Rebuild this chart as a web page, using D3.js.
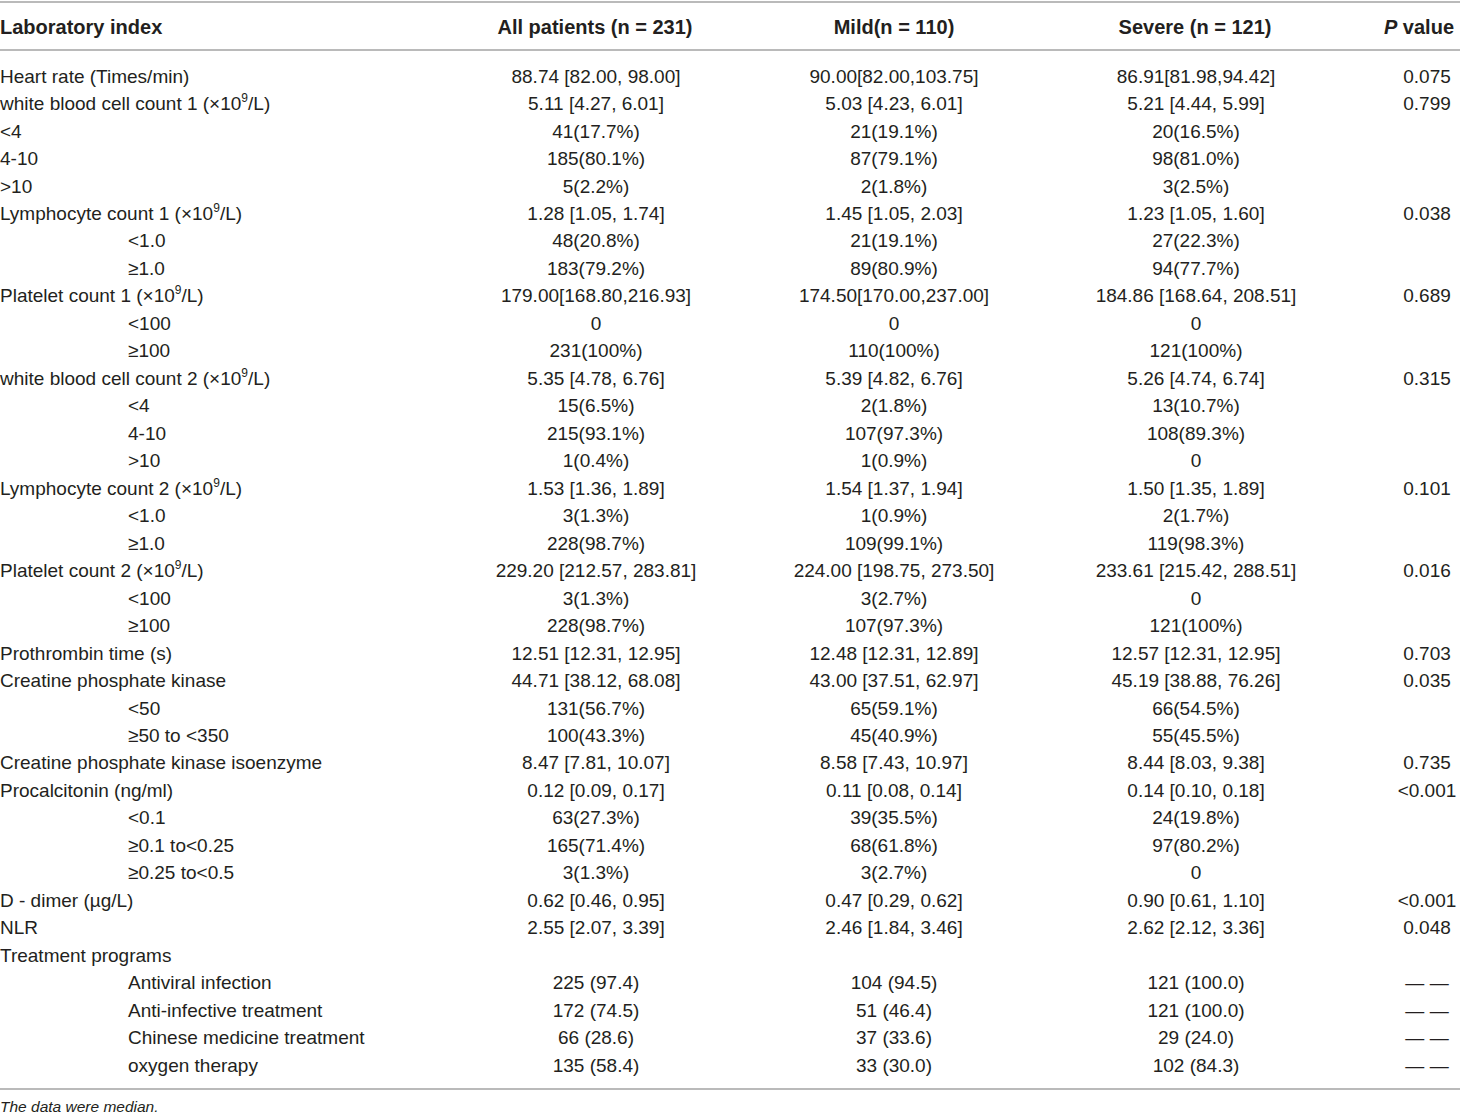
<!DOCTYPE html>
<html>
<head>
<meta charset="utf-8">
<script src="https://cdn.jsdelivr.net/npm/d3@7"></script>
<style>
  html, body { margin: 0; padding: 0; background: #fff; }
  svg text { font-family: "Liberation Sans", Arial, sans-serif; fill: #231f20; }
</style>
</head>
<body>
<svg class="rootSvg" width="1460" height="1116"></svg>
<script>
// Table content, read row by row. "^9" marks a superscript 9.
var headers = ['Laboratory index', 'All patients (n = 231)', 'Mild(n = 110)', 'Severe (n = 121)', 'P value'];

var labels = [
  'Heart rate (Times/min)', 'white blood cell count 1 (×10^9/L)', '<4', '4-10', '>10',
  'Lymphocyte count 1 (×10^9/L)', '<1.0', '≥1.0',
  'Platelet count 1 (×10^9/L)', '<100', '≥100',
  'white blood cell count 2 (×10^9/L)', '<4', '4-10', '>10',
  'Lymphocyte count 2 (×10^9/L)', '<1.0', '≥1.0',
  'Platelet count 2 (×10^9/L)', '<100', '≥100',
  'Prothrombin time (s)', 'Creatine phosphate kinase', '<50', '≥50 to <350',
  'Creatine phosphate kinase isoenzyme', 'Procalcitonin (ng/ml)', '<0.1', '≥0.1 to<0.25', '≥0.25 to<0.5',
  'D - dimer (µg/L)', 'NLR', 'Treatment programs',
  'Antiviral infection', 'Anti-infective treatment', 'Chinese medicine treatment', 'oxygen therapy'
];

// 1 = indented sub-row
var indent = [0, 0, 0, 0, 0, 0, 1, 1, 0, 1, 1, 0, 1, 1, 1, 0, 1, 1, 0, 1, 1,
              0, 0, 1, 1, 0, 0, 1, 1, 1, 0, 0, 0, 1, 1, 1, 1];

var allPatients = [
  '88.74 [82.00, 98.00]', '5.11 [4.27, 6.01]', '41(17.7%)', '185(80.1%)', '5(2.2%)',
  '1.28 [1.05, 1.74]', '48(20.8%)', '183(79.2%)',
  '179.00[168.80,216.93]', '0', '231(100%)',
  '5.35 [4.78, 6.76]', '15(6.5%)', '215(93.1%)', '1(0.4%)',
  '1.53 [1.36, 1.89]', '3(1.3%)', '228(98.7%)',
  '229.20 [212.57, 283.81]', '3(1.3%)', '228(98.7%)',
  '12.51 [12.31, 12.95]', '44.71 [38.12, 68.08]', '131(56.7%)', '100(43.3%)',
  '8.47 [7.81, 10.07]', '0.12 [0.09, 0.17]', '63(27.3%)', '165(71.4%)', '3(1.3%)',
  '0.62 [0.46, 0.95]', '2.55 [2.07, 3.39]', '',
  '225 (97.4)', '172 (74.5)', '66 (28.6)', '135 (58.4)'
];

var mild = [
  '90.00[82.00,103.75]', '5.03 [4.23, 6.01]', '21(19.1%)', '87(79.1%)', '2(1.8%)',
  '1.45 [1.05, 2.03]', '21(19.1%)', '89(80.9%)',
  '174.50[170.00,237.00]', '0', '110(100%)',
  '5.39 [4.82, 6.76]', '2(1.8%)', '107(97.3%)', '1(0.9%)',
  '1.54 [1.37, 1.94]', '1(0.9%)', '109(99.1%)',
  '224.00 [198.75, 273.50]', '3(2.7%)', '107(97.3%)',
  '12.48 [12.31, 12.89]', '43.00 [37.51, 62.97]', '65(59.1%)', '45(40.9%)',
  '8.58 [7.43, 10.97]', '0.11 [0.08, 0.14]', '39(35.5%)', '68(61.8%)', '3(2.7%)',
  '0.47 [0.29, 0.62]', '2.46 [1.84, 3.46]', '',
  '104 (94.5)', '51 (46.4)', '37 (33.6)', '33 (30.0)'
];

var severe = [
  '86.91[81.98,94.42]', '5.21 [4.44, 5.99]', '20(16.5%)', '98(81.0%)', '3(2.5%)',
  '1.23 [1.05, 1.60]', '27(22.3%)', '94(77.7%)',
  '184.86 [168.64, 208.51]', '0', '121(100%)',
  '5.26 [4.74, 6.74]', '13(10.7%)', '108(89.3%)', '0',
  '1.50 [1.35, 1.89]', '2(1.7%)', '119(98.3%)',
  '233.61 [215.42, 288.51]', '0', '121(100%)',
  '12.57 [12.31, 12.95]', '45.19 [38.88, 76.26]', '66(54.5%)', '55(45.5%)',
  '8.44 [8.03, 9.38]', '0.14 [0.10, 0.18]', '24(19.8%)', '97(80.2%)', '0',
  '0.90 [0.61, 1.10]', '2.62 [2.12, 3.36]', '',
  '121 (100.0)', '121 (100.0)', '29 (24.0)', '102 (84.3)'
];

var pValues = [
  '0.075', '0.799', '', '', '', '0.038', '', '', '0.689', '', '',
  '0.315', '', '', '', '0.101', '', '', '0.016', '', '',
  '0.703', '0.035', '', '', '0.735', '<0.001', '', '', '',
  '<0.001', '0.048', '', '— —', '— —', '— —', '— —'
];

var footnote = 'The data were median.';

var width = 1460;
var fontSize = 19;
var headSize = 20;
var indentX = 128;
var lineColor = '#a3a3a3';

var svg = d3.select('.rootSvg');

// Rows sit on evenly spaced points
var y = d3.scalePoint()
    .domain(d3.range(labels.length))
    .range([76, 1065]);

// Column centres for the value columns
var colX = [0, 596, 894, 1196, 1427];
var headerX = [0, 595, 894, 1195, 1419];

function hline(yPos) {
    svg.append('line')
        .attr('x1', 0)
        .attr('x2', width)
        .attr('y1', yPos)
        .attr('y2', yPos)
        .attr('stroke', lineColor)
        .attr('stroke-width', 1.5);
}

hline(2);
hline(50);
hline(1089);

// Header
var head = svg.append('g').attr('class', 'header');

headers.forEach(function (h, i) {
    var t = head.append('text')
        .attr('x', headerX[i])
        .attr('y', 27)
        .attr('dy', '0.35em')
        .attr('text-anchor', i === 0 ? 'start' : 'middle')
        .style('font-size', headSize + 'px')
        .style('font-weight', 'bold');

    if (h === 'P value') {
        t.append('tspan').style('font-style', 'italic').text('P');
        t.append('tspan').text(' value');
    } else {
        t.text(h);
    }
});

// Label column, with superscripts
function writeLabel(sel, s) {
    var parts = s.split('^9');
    sel.append('tspan').text(parts[0]);
    if (parts.length > 1) {
        sel.append('tspan')
            .attr('dy', -8)
            .style('font-size', '12px')
            .text('9');
        sel.append('tspan')
            .attr('dy', 8)
            .text(parts[1]);
    }
}

var body = svg.append('g').attr('class', 'body');

body.selectAll('.label')
    .data(labels)
    .join('text')
        .attr('class', 'label')
        .attr('x', function (d, i) { return indent[i] ? indentX : 0; })
        .attr('y', function (d, i) { return y(i); })
        .attr('dy', '0.35em')
        .style('font-size', fontSize + 'px')
        .each(function (d) { writeLabel(d3.select(this), d); });

var columns = [allPatients, mild, severe, pValues];

columns.forEach(function (col, c) {
    body.selectAll('.col' + c)
        .data(col)
        .join('text')
            .attr('class', 'col' + c)
            .attr('x', colX[c + 1])
            .attr('y', function (d, i) { return y(i); })
            .attr('dy', '0.35em')
            .attr('text-anchor', 'middle')
            .style('font-size', fontSize + 'px')
            .text(function (d) { return d; });
});

// Footnote
svg.append('text')
    .attr('x', 0)
    .attr('y', 1107)
    .attr('dy', '0.35em')
    .style('font-size', '15.5px')
    .style('font-style', 'italic')
    .text(footnote);
</script>
</body>
</html>
